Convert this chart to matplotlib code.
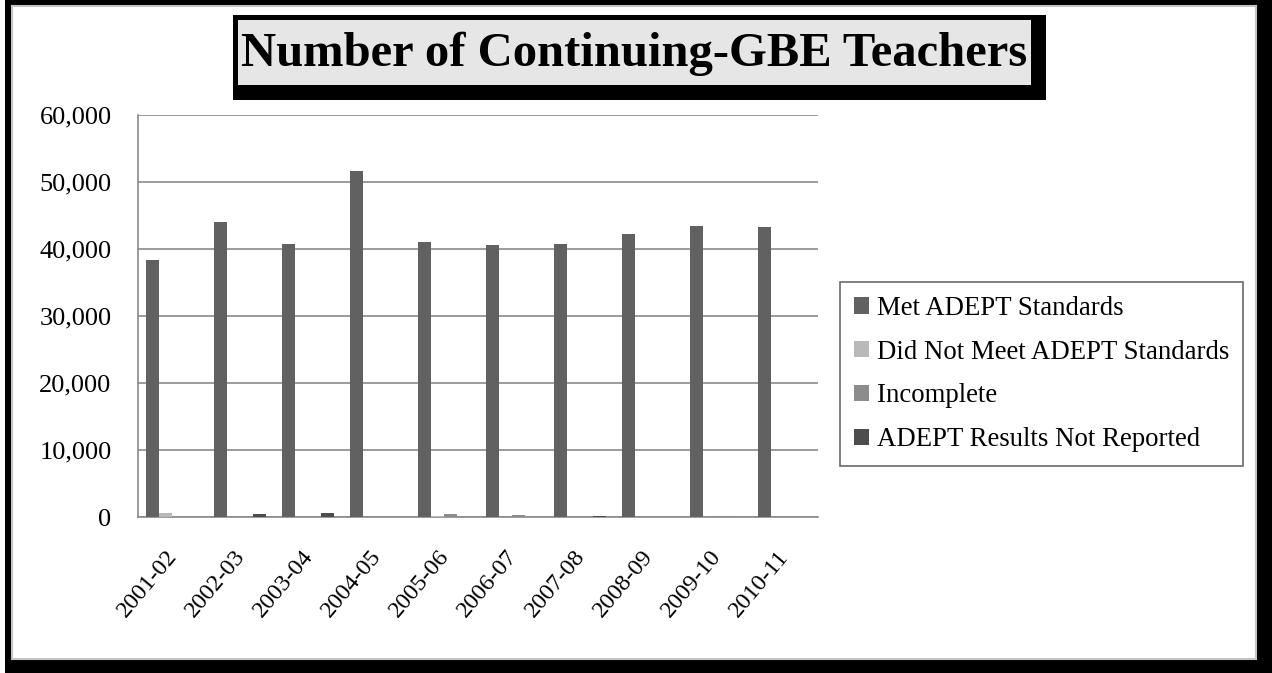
import matplotlib
matplotlib.use("Agg")
import matplotlib.pyplot as plt
import matplotlib.transforms as mtransforms
import numpy as np
from matplotlib.patches import Rectangle

categories = ["2001-02", "2002-03", "2003-04", "2004-05", "2005-06",
              "2006-07", "2007-08", "2008-09", "2009-10", "2010-11"]
met = [38400, 44000, 40700, 51600, 41000, 40600, 40700, 42200, 43400, 43300]
did_not_meet = [600, 0, 0, 0, 100, 0, 0, 0, 0, 0]
incomplete = [0, 0, 0, 0, 400, 250, 0, 0, 150, 0]
not_reported = [0, 500, 550, 0, 0, 0, 200, 0, 0, 0]
series_names = ["Met ADEPT Standards", "Did Not Meet ADEPT Standards",
                "Incomplete", "ADEPT Results Not Reported"]
colors = ["#616161", "#b9b9b9", "#8c8c8c", "#4d4d4d"]
yticks = [0, 10000, 20000, 30000, 40000, 50000, 60000]
title = "Number of Continuing-GBE Teachers"

W, H = 1272, 673
fig = plt.figure(figsize=(W / 100, H / 100), dpi=100)
serif = ["Liberation Serif", "DejaVu Serif"]

def px(x0, y0, x1, y1):
    # image pixel box -> figure fraction (x, y, w, h)
    return (x0 / W, 1 - y1 / H, (x1 - x0) / W, (y1 - y0) / H)

def rect(box, **kw):
    x, y, w, h = px(*box)
    fig.patches.append(Rectangle((x, y), w, h, transform=fig.transFigure, **kw))

# outer frame
rect((0, 0, W, H), facecolor="black", edgecolor="none", zorder=0)
rect((0, 0, 5, H), facecolor="white", edgecolor="none", zorder=0.5)
rect((12, 6, 1256, 659), facecolor="white", edgecolor="#c4c4c4", lw=1.5, zorder=1)

# title box
rect((233, 15, 1046, 100), facecolor="black", edgecolor="none", zorder=2)
rect((238, 20, 1031, 85), facecolor="#e6e6e6", edgecolor="none", zorder=3)
fig.text(634 / W, 1 - 54 / H, title, ha="center", va="center",
         fontsize=35, fontweight="bold", family=serif, zorder=4)

ax = fig.add_axes(px(138, 115, 818, 517))
ax.set_zorder(5)
ax.patch.set_alpha(0)
n = len(categories)
xpos = np.arange(n)
bw = 0.19
data = [met, did_not_meet, incomplete, not_reported]
for i, (vals, name, c) in enumerate(zip(data, series_names, colors)):
    ax.bar(xpos + (i - 1.5) * bw, vals, width=bw, color=c, label=name, zorder=3)

ax.set_xlim(-0.5, n - 0.5)
ax.set_ylim(0, 60000)
ax.set_yticks(yticks)
ax.set_yticklabels([f"{v:,}" for v in yticks], family=serif, fontsize=19)
ax.yaxis.grid(True, color="#8a8a8a", lw=1.2, zorder=0)
ax.set_axisbelow(True)
ax.tick_params(axis="y", length=0, pad=19)
ax.set_xticks(xpos)
ax.set_xticklabels(categories, rotation=50, ha="right", rotation_mode="anchor",
                   family=serif, fontsize=17.5)
ax.tick_params(axis="x", length=0, pad=21)
shift = mtransforms.ScaledTranslation(-7 / 100, 0, fig.dpi_scale_trans)
for lab in ax.get_xticklabels():
    lab.set_transform(lab.get_transform() + shift)
for s in ["top", "right"]:
    ax.spines[s].set_visible(False)
for s in ["left", "bottom"]:
    ax.spines[s].set_color("#8a8a8a")
    ax.spines[s].set_linewidth(1.2)

x, y, w, h = px(840, 282, 1242, 463)
leg = fig.legend(loc="upper left", bbox_to_anchor=(x, y + h), frameon=True,
                 prop={"family": serif, "size": 19.3}, handlelength=0.55,
                 handleheight=0.55, handletextpad=0.3, labelspacing=0.7,
                 borderpad=0.52, fancybox=False, borderaxespad=0)
leg.get_frame().set_edgecolor("#444444")
leg.get_frame().set_linewidth(1.2)
leg.set_zorder(6)

fig.savefig("out.png", dpi=100)
